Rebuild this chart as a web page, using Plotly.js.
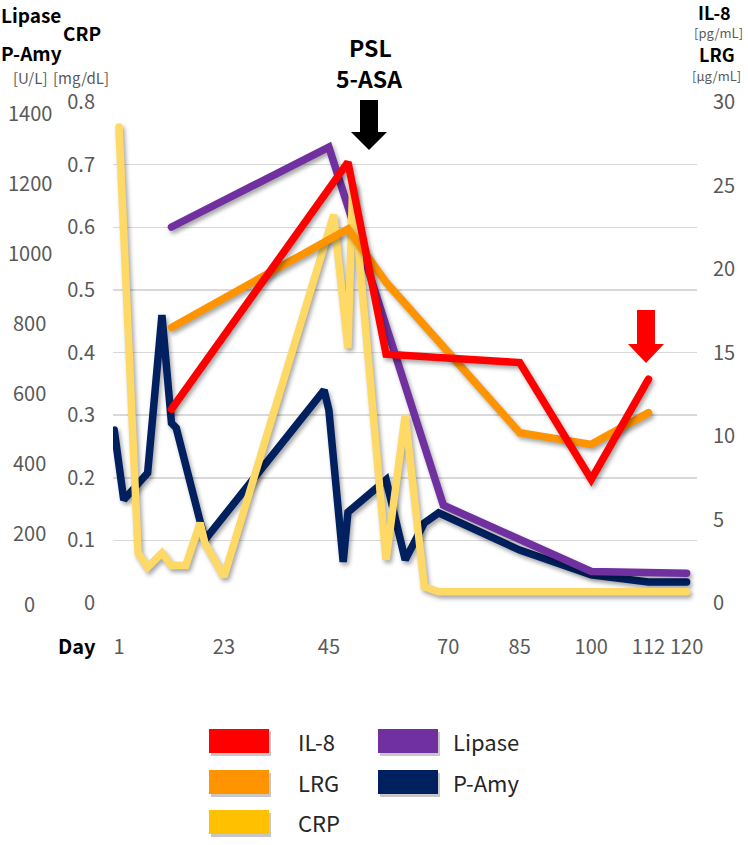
<!DOCTYPE html>
<html><head><meta charset="utf-8">
<script src="https://cdn.plot.ly/plotly-3.0.1.min.js"></script>
<style>
html,body{margin:0;padding:0;background:#fff;}
#chart{width:748px;height:845px;}
.scatterlayer .js-line{stroke-linecap:round;filter:drop-shadow(2px 3px 2px rgba(0,0,0,0.35));}
</style></head><body><div id="chart"></div>
<script>
// ---- data ----
const dayTicks = [1, 23, 45, 70, 85, 100, 112, 120];
const il8Days = [12, 49, 57, 85, 100, 112];
const il8 = [11.6, 26.4, 14.9, 14.4, 7.4, 13.4];
const lrgDays = [12, 49, 57, 85, 100, 112];
const lrg = [16.5, 22.4, 19.2, 10.2, 9.5, 11.4];
const crpDays = [1, 5, 7, 10, 12, 15, 18, 19, 23, 46, 49, 50, 57, 61, 65, 68, 120];
const crp = [0.76, 0.08, 0.057, 0.08, 0.06, 0.06, 0.128, 0.096, 0.042, 0.62, 0.407, 0.67, 0.069, 0.30, 0.026, 0.018, 0.018];
const lipaseDays = [12, 45, 69, 100, 120];
const lipase = [1072, 1300, 279, 90, 85];
const amyDays = [0, 2, 7, 10, 12, 13, 19, 44, 45, 48, 49, 57, 61, 65, 68, 85, 100, 112, 120];
const amy = [493, 294, 371, 821, 513, 499, 180, 607, 550, 117, 259, 351, 123, 228, 257, 151, 80, 60, 60];
const unitTicks = [0, 200, 400, 600, 800, 1000, 1200, 1400];
const crpTicks = [0, 0.1, 0.2, 0.3, 0.4, 0.5, 0.6, 0.7, 0.8];
const rightTicks = [0, 5, 10, 15, 20, 25, 30];
const seriesNames = ['IL-8', 'LRG', 'CRP', 'Lipase', 'P-Amy'];

// ---- styles / layout helpers ----
const FONT = '"Noto Sans CJK JP", "Noto Sans", sans-serif';
const GRAY = '#595959';
const colors = {'IL-8': '#FF0000', 'LRG': '#FF9300', 'CRP': '#FFD966', 'Lipase': '#7030A0', 'P-Amy': '#002060'};
const legendColors = {'IL-8': '#FF0000', 'LRG': '#FF9300', 'CRP': '#FFC000', 'Lipase': '#7030A0', 'P-Amy': '#002060'};
const L = 113, R = 697, T = 102, B = 603;
const px = x => (x - L) / (R - L);
const py = y => (B - y) / (B - T);
const dayAt = p => 1 + (p - 119) / 4.77;

function line(name, x, y, yaxis) {
  return {type: 'scatter', mode: 'lines', name: name, x: x, y: y, yaxis: yaxis,
    line: {color: colors[name], width: 7.5}, showlegend: false, hoverinfo: 'skip'};
}
const traces = [
  line('P-Amy', amyDays, amy, 'y'),
  line('Lipase', lipaseDays, lipase, 'y'),
  line('CRP', crpDays, crp, 'y2'),
  line('LRG', lrgDays, lrg, 'y3'),
  line('IL-8', il8Days, il8, 'y3')
];

const annotations = [];
function txt(text, x, y, size, opts) {
  annotations.push(Object.assign({text: text, x: px(x), y: py(y), xref: 'paper', yref: 'paper',
    showarrow: false, xanchor: 'center', yanchor: 'middle', borderpad: 0,
    font: {family: FONT, size: size, color: '#000'}}, opts || {}));
}
// U/L tick labels (centered column)
unitTicks.forEach(v => annotations.push({text: String(v), x: px(30), xref: 'paper', y: v, yref: 'y',
  showarrow: false, xanchor: 'center', yanchor: 'middle', font: {family: FONT, size: 20, color: GRAY}}));
// axis titles
txt('<b>Lipase</b>', 31, 14, 19);
txt('<b>CRP</b>', 82, 33, 19);
txt('<b>P-Amy</b>', 31, 52, 19);
txt('[U/L]', 30, 77, 15, {font: {family: FONT, size: 15, color: GRAY}});
txt('[mg/dL]', 81, 77, 15, {font: {family: FONT, size: 15, color: GRAY}});
txt('<b>IL-8</b>', 714, 12, 18);
txt('[pg/mL]', 718, 33, 13, {font: {family: FONT, size: 13, color: GRAY}});
txt('<b>LRG</b>', 717, 54, 18);
txt('[μg/mL]', 716, 76, 13, {font: {family: FONT, size: 13, color: GRAY}});
txt('<b>PSL</b>', 370, 47, 23);
txt('<b>5-ASA</b>', 369, 78, 23);
txt('<b>Day</b>', 97, 645, 20, {xanchor: 'right'});

// arrows
function arrow(cx, top, headTop, tip, shaftHalf, headHalf, color) {
  const pts = [[cx - shaftHalf, top], [cx + shaftHalf, top], [cx + shaftHalf, headTop], [cx + headHalf, headTop],
    [cx, tip], [cx - headHalf, headTop], [cx - shaftHalf, headTop]];
  const d = 'M' + pts.map(p => px(p[0]) + ',' + py(p[1])).join(' L') + ' Z';
  return {type: 'path', xref: 'paper', yref: 'paper', path: d, fillcolor: color, line: {width: 0}};
}
const shapes = [
  arrow(369, 100, 132, 150, 9, 18, '#000000'),
  arrow(646, 310, 344, 363, 9, 18, '#FF0000')
];

// custom legend
const legendPos = {
  'IL-8': [209, 741, 297], 'LRG': [209, 782, 297], 'CRP': [209, 822, 297],
  'Lipase': [378, 741, 452], 'P-Amy': [378, 782, 452]
};
seriesNames.forEach(n => {
  const [x, y, tx] = legendPos[n];
  shapes.push({type: 'rect', xref: 'paper', yref: 'paper', x0: px(x + 2), x1: px(x + 62), y0: py(y - 9), y1: py(y + 15),
    fillcolor: 'rgba(0,0,0,0.22)', line: {width: 0}});
  shapes.push({type: 'rect', xref: 'paper', yref: 'paper', x0: px(x), x1: px(x + 60), y0: py(y - 12), y1: py(y + 12),
    fillcolor: legendColors[n], line: {width: 0}});
  txt(n, tx, y, 22, {xanchor: 'left', font: {family: FONT, size: 22, color: '#262626'}});
});

const layout = {
  width: 748, height: 845,
  margin: {l: L, r: 748 - R, t: T, b: 845 - B, pad: 0},
  paper_bgcolor: '#fff', plot_bgcolor: 'rgba(0,0,0,0)',
  showlegend: false,
  font: {family: FONT, color: GRAY},
  xaxis: {range: [dayAt(L), dayAt(R)], tickvals: dayTicks, ticktext: dayTicks.map(String),
    showgrid: false, zeroline: false, showline: false, ticks: 'outside', ticklen: 26,
    tickcolor: 'rgba(0,0,0,0)', tickfont: {family: FONT, size: 20, color: GRAY}},
  yaxis: {range: [0, 1400 * (B - T) / (603 - 112)], showgrid: false, zeroline: false,
    showticklabels: false, showline: false},
  yaxis2: {overlaying: 'y', side: 'left', range: [0, 0.8], tickvals: crpTicks,
    ticktext: crpTicks.map(v => v === 0 ? '0' : v.toFixed(1)),
    showgrid: true, gridcolor: '#D9D9D9', gridwidth: 1.5, zeroline: false, showline: false,
    ticks: 'outside', ticklen: 13, tickcolor: 'rgba(0,0,0,0)', tickfont: {family: FONT, size: 20, color: GRAY}},
  yaxis3: {overlaying: 'y', side: 'right', range: [0, 30], tickvals: rightTicks,
    showgrid: false, zeroline: false, showline: false,
    ticks: 'outside', ticklen: 11, tickcolor: 'rgba(0,0,0,0)', tickfont: {family: FONT, size: 20, color: GRAY}},
  annotations: annotations,
  shapes: shapes
};
Plotly.newPlot('chart', traces, layout, {displayModeBar: false, staticPlot: true});
</script></body></html>
